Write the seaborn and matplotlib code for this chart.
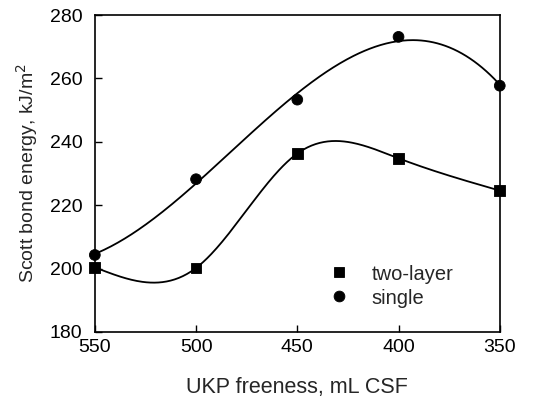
import numpy as np
import pandas as pd
import matplotlib
matplotlib.use("Agg")
import matplotlib.pyplot as plt
import seaborn as sns

freeness = [550, 500, 450, 400, 350]
two_layer = [200.4, 200.2, 236.3, 234.8, 224.6]
single = [204.3, 228.2, 253.3, 273.1, 257.7]


def natural_spline(x, y, xs):
    # natural cubic spline through the points
    x = np.asarray(x, float)
    y = np.asarray(y, float)
    order = np.argsort(x)
    x, y = x[order], y[order]
    n = len(x)
    h = np.diff(x)
    A = np.zeros((n, n))
    b = np.zeros(n)
    A[0, 0] = A[-1, -1] = 1
    for i in range(1, n - 1):
        A[i, i - 1] = h[i - 1]
        A[i, i] = 2 * (h[i - 1] + h[i])
        A[i, i + 1] = h[i]
        b[i] = 6 * ((y[i + 1] - y[i]) / h[i] - (y[i] - y[i - 1]) / h[i - 1])
    M = np.linalg.solve(A, b)
    idx = np.clip(np.searchsorted(x, xs) - 1, 0, n - 2)
    x0, x1 = x[idx], x[idx + 1]
    hh = x1 - x0
    t0, t1 = x1 - xs, xs - x0
    return (M[idx] * t0**3 / (6 * hh) + M[idx + 1] * t1**3 / (6 * hh)
            + (y[idx] / hh - M[idx] * hh / 6) * t0
            + (y[idx + 1] / hh - M[idx + 1] * hh / 6) * t1)


xs = np.linspace(350, 550, 300)
curve_two = natural_spline(freeness, two_layer, xs)
curve_single = np.polyval(np.polyfit(freeness, single, 3), xs)

pts = pd.DataFrame({
    "freeness": freeness * 2,
    "energy": two_layer + single,
    "series": ["two-layer"] * 5 + ["single"] * 5,
})
curves = pd.DataFrame({
    "freeness": np.concatenate([xs, xs]),
    "energy": np.concatenate([curve_two, curve_single]),
    "series": ["two-layer"] * len(xs) + ["single"] * len(xs),
})

sns.set_style("ticks")
plt.rcParams["font.family"] = ["Liberation Sans", "DejaVu Sans"]

fig = plt.figure(figsize=(5.45, 4), dpi=100)
ax = fig.add_axes([0.174, 0.17, 0.743, 0.7925])

sns.lineplot(data=curves, x="freeness", y="energy", units="series",
             estimator=None, color="black", linewidth=1.3, ax=ax, legend=False)
sns.scatterplot(data=pts, x="freeness", y="energy", style="series",
                markers={"two-layer": "s", "single": "o"}, color="black",
                s=60, edgecolor="black", ax=ax, clip_on=False, zorder=5)

ax.set_xlim(550, 350)
ax.set_ylim(180, 280)
ax.set_xticks([550, 500, 450, 400, 350])
ax.set_yticks([180, 200, 220, 240, 260, 280])
ax.tick_params(direction="in", length=5, width=1, labelsize=14, colors="black")
ax.tick_params(axis="y", pad=9)
ax.tick_params(axis="x", pad=5)
for s in ax.spines.values():
    s.set_visible(True)
    s.set_linewidth(1.2)
    s.set_color("black")

ax.set_xlabel("UKP freeness, mL CSF", fontsize=15.5, labelpad=15)
ax.set_ylabel("Scott bond energy, kJ/m$^2$", fontsize=14, labelpad=7)

leg = ax.legend(loc="lower right", bbox_to_anchor=(0.93, 0.02), frameon=False,
                fontsize=14.5, handletextpad=0.6, labelspacing=0.25, title=None)
plt.savefig("out.png", dpi=100)
